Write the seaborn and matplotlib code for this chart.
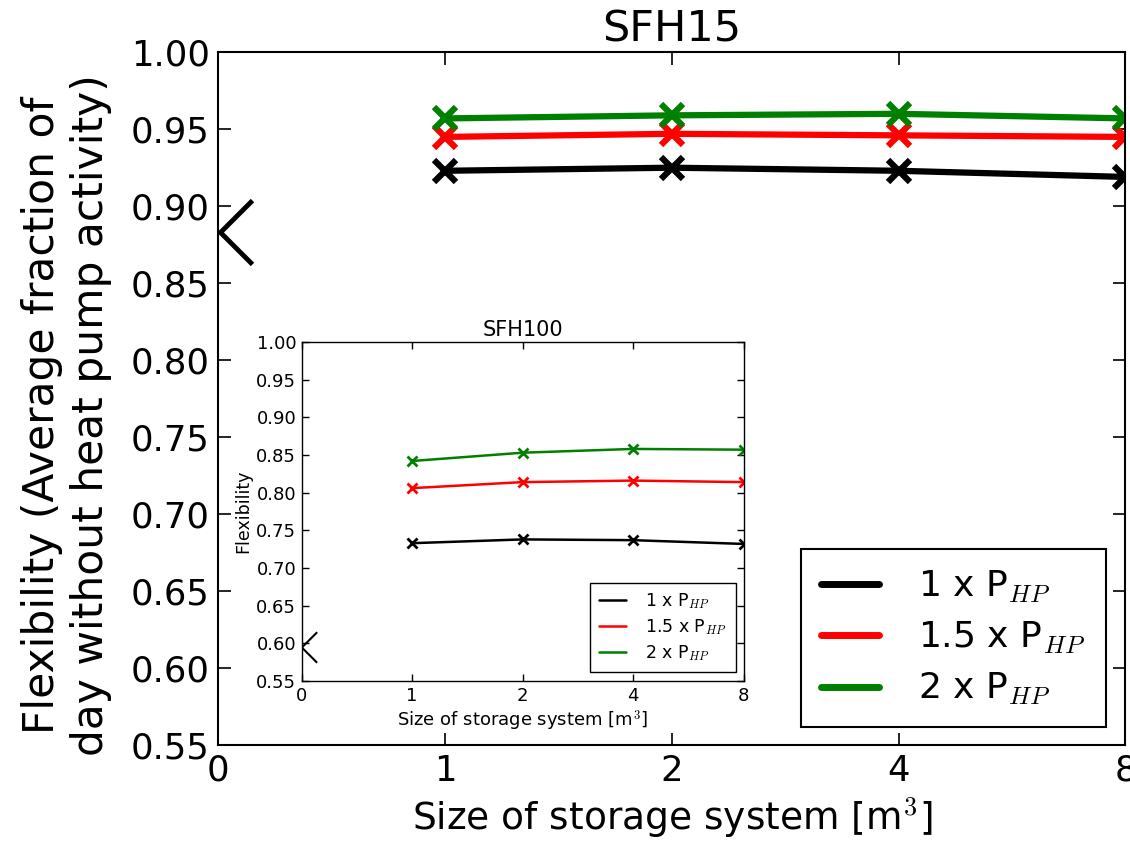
import numpy as np
import pandas as pd
import matplotlib
matplotlib.use("Agg")
import matplotlib.pyplot as plt
from matplotlib.path import Path
from matplotlib.lines import Line2D
import seaborn as sns

# ---------------- data ----------------
size_labels = ["0", "1", "2", "4", "8"]
sizes = [1, 2, 4, 8]
series_names = ["1 x P$_{HP}$", "1.5 x P$_{HP}$", "2 x P$_{HP}$"]
series_colors = ["black", "red", "green"]

sfh15_1x = [0.923, 0.925, 0.923, 0.919]
sfh15_15x = [0.945, 0.947, 0.946, 0.945]
sfh15_2x = [0.957, 0.959, 0.960, 0.957]

sfh100_1x = [0.733, 0.738, 0.737, 0.732]
sfh100_15x = [0.806, 0.814, 0.816, 0.814]
sfh100_2x = [0.842, 0.853, 0.858, 0.857]

chevron_main = [0.883]
chevron_inset = [0.595]

# ---------------- style ----------------
sns.set_style("ticks")
plt.rcParams.update({
    "font.family": ["DejaVu Sans"],
    "mathtext.fontset": "cm",
    "xtick.direction": "in",
    "ytick.direction": "in",
    "xtick.top": True,
    "ytick.right": True,
    "axes.edgecolor": "black",
    "axes.linewidth": 1.5,
    "xtick.color": "black",
    "ytick.color": "black",
    "text.color": "black",
    "axes.labelcolor": "black",
})

pos = {s: i + 1 for i, s in enumerate(sizes)}


def make_df(vals_list):
    rows = []
    for name, vals in zip(series_names, vals_list):
        for s, v in zip(sizes, vals):
            rows.append({"pos": pos[s], "val": v, "series": name})
    return pd.DataFrame(rows)


df15 = make_df([sfh15_1x, sfh15_15x, sfh15_2x])
df100 = make_df([sfh100_1x, sfh100_15x, sfh100_2x])

chev = Path([(0.5, 1.0), (-0.5, 0.0), (0.5, -1.0)],
            [Path.MOVETO, Path.LINETO, Path.LINETO])

yticks = np.arange(0.55, 1.0001, 0.05)
ytick_labels = [f"{v:.2f}" for v in yticks]

fig = plt.figure(figsize=(11.3, 8.42), dpi=100)

# ---------------- main axes ----------------
ax = fig.add_axes([0.193, 0.115, 0.803, 0.823])
for name, col in zip(series_names, series_colors):
    sub = df15[df15["series"] == name]
    sns.lineplot(data=sub, x="pos", y="val", ax=ax, color=col, lw=4.5,
                 marker="x", markersize=16, markeredgewidth=4.5,
                 markeredgecolor=col, legend=False, estimator=None)
ax.plot([0.08], chevron_main, linestyle="none", marker=chev, markersize=46,
        markerfacecolor="none", markeredgecolor="black", markeredgewidth=3.5)
ax.set_xlim(0, 4)
ax.set_ylim(0.55, 1.0)
ax.set_xticks(range(len(size_labels)))
ax.set_xticklabels(size_labels)
ax.set_yticks(yticks)
ax.set_yticklabels(ytick_labels)
ax.tick_params(labelsize=25.5, length=9, width=1.2, pad=6)
ax.set_xlabel("Size of storage system [m$^3$]", fontsize=27, labelpad=6)
ax.set_ylabel("Flexibility (Average fraction of\nday without heat pump activity)",
              fontsize=30.5, linespacing=1.2)
ax.yaxis.set_label_coords(-0.117, 0.476)
ax.set_title("SFH15", fontsize=31, pad=8)
handles = [Line2D([], [], color=c, lw=5) for c in series_colors]
leg = ax.legend(handles, series_names, loc="lower right",
                bbox_to_anchor=(0.978, 0.026), borderaxespad=0,
                fontsize=26, frameon=True, fancybox=False, framealpha=1,
                handlelength=1.6, handletextpad=1.1, labelspacing=0.42,
                borderpad=0.55)
leg.get_frame().set_edgecolor("black")
leg.get_frame().set_linewidth(1.5)

# ---------------- inset axes ----------------
ax2 = fig.add_axes([0.267, 0.191, 0.391, 0.403])
for name, col in zip(series_names, series_colors):
    sub = df100[df100["series"] == name]
    sns.lineplot(data=sub, x="pos", y="val", ax=ax2, color=col, lw=1.8,
                 marker="x", markersize=7, markeredgewidth=2,
                 markeredgecolor=col, legend=False, estimator=None)
ax2.plot([0.07], chevron_inset, linestyle="none", marker=chev, markersize=22,
         markerfacecolor="none", markeredgecolor="black", markeredgewidth=1.5)
ax2.set_xlim(0, 4)
ax2.set_ylim(0.55, 1.0)
ax2.set_xticks(range(len(size_labels)))
ax2.set_xticklabels(size_labels)
ax2.set_yticks(yticks)
ax2.set_yticklabels(ytick_labels)
ax2.tick_params(labelsize=13, length=5, width=1, pad=4)
for sp in ax2.spines.values():
    sp.set_linewidth(1)
ax2.set_xlabel("Size of storage system [m$^3$]", fontsize=13, labelpad=3)
ax2.set_ylabel("Flexibility", fontsize=12.5, labelpad=3)
ax2.set_title("SFH100", fontsize=15, pad=4)
handles2 = [Line2D([], [], color=c, lw=1.8) for c in series_colors]
leg2 = ax2.legend(handles2, series_names, loc="lower right",
                  bbox_to_anchor=(0.982, 0.027), borderaxespad=0,
                  fontsize=12.5, frameon=True, fancybox=False, framealpha=1,
                  handlelength=1.6, handletextpad=1.1, labelspacing=0.35,
                  borderpad=0.5)
leg2.get_frame().set_edgecolor("black")

fig.savefig("out.png", dpi=100, facecolor="white")
